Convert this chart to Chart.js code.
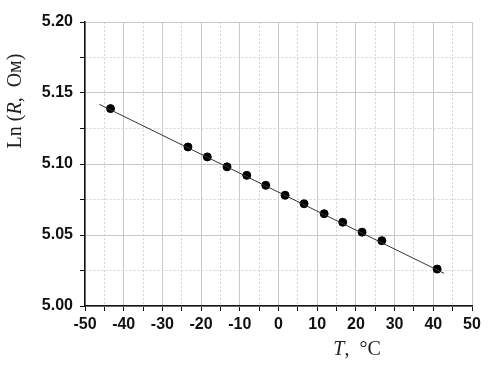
<!DOCTYPE html>
<html>
<head>
<meta charset="utf-8">
<script src="https://cdn.jsdelivr.net/npm/chart.js@4/dist/chart.umd.min.js"></script>
<style>
  body { margin: 0; background: #fff; }
  #wrap { width: 490px; height: 367px; }
</style>
</head>
<body>
<div id="wrap"><canvas id="ln_chart" width="490" height="367"></canvas></div>
<script>
const temps = [-43.4, -23.4, -18.4, -13.3, -8.2, -3.3, 1.7, 6.6, 11.8, 16.6, 21.6, 26.7, 41.0];
const lnR = [5.139, 5.112, 5.105, 5.098, 5.092, 5.085, 5.078, 5.072, 5.065, 5.059, 5.052, 5.046, 5.026];

// linear fit line ends
const fitT = [-46.3, 42.8];
const fitLn = [5.142, 5.023];

const xTicks = { min: -50, max: 50, major: 10, minor: 5 };
const yTicks = { min: 5.0, max: 5.2, major: 0.05, minor: 0.025 };

const isMajorX = (v) => Math.round(v) % xTicks.major === 0;
const isMajorY = (v) => Math.round(v * 1000) % Math.round(yTicks.major * 1000) === 0;

const tickFont = { family: '"Liberation Sans", Arial, sans-serif', size: 16, weight: 'bold' };

// axis titles have italic parts, so draw them by hand
const axisTitles = {
  id: 'axisTitles',
  afterDraw(chart) {
    const ctx = chart.ctx;
    const drawParts = (parts, cx, cy) => {
      let total = 0;
      for (const p of parts) {
        ctx.font = (p.italic ? 'italic ' : '') + '20px "Liberation Serif", "Times New Roman", serif';
        p.w = ctx.measureText(p.text).width;
        total += p.w;
      }
      let x = cx - total / 2;
      for (const p of parts) {
        ctx.font = (p.italic ? 'italic ' : '') + '20px "Liberation Serif", "Times New Roman", serif';
        ctx.fillText(p.text, x, cy);
        x += p.w;
      }
    };
    ctx.save();
    ctx.fillStyle = '#222';
    ctx.textBaseline = 'middle';
    ctx.textAlign = 'left';
    drawParts([{ text: 'T' , italic: true }, { text: ',  °C' }], 357, 350);
    ctx.translate(16, 101);
    ctx.rotate(-Math.PI / 2);
    drawParts([{ text: 'Ln (' }, { text: 'R', italic: true }, { text: ',  Ом)' }], 0, 0);
    ctx.restore();
  }
};

new Chart(document.getElementById('ln_chart'), {
  type: 'scatter',
  data: {
    datasets: [
      {
        label: 'fit',
        type: 'line',
        data: fitT.map((t, i) => ({ x: t, y: fitLn[i] })),
        borderColor: '#333',
        borderWidth: 1,
        pointRadius: 0,
        fill: false
      },
      {
        label: 'Ln R',
        data: temps.map((t, i) => ({ x: t, y: lnR[i] })),
        backgroundColor: '#000',
        borderColor: '#000',
        pointRadius: 4,
        pointHoverRadius: 4
      }
    ]
  },
  options: {
    responsive: false,
    animation: false,
    events: [],
    layout: { padding: { top: 22, right: 18, left: 0, bottom: 0 } },
    plugins: { legend: { display: false }, tooltip: { enabled: false } },
    scales: {
      x: {
        type: 'linear',
        min: xTicks.min,
        max: xTicks.max,
        afterFit: (scale) => { scale.height = 61; },
        ticks: {
          stepSize: xTicks.minor,
          autoSkip: false,
          maxRotation: 0,
          padding: 4,
          color: '#111',
          font: tickFont,
          callback: (v) => isMajorX(v) ? String(v) : ''
        },
        grid: {
          color: (c) => isMajorX(c.tick.value) ? '#c8c8c8' : '#d4d4d4',
          lineWidth: 1,
          tickLength: 5,
          tickColor: '#111'
        },
        border: {
          color: '#111',
          width: 1.5,
          dash: (c) => (c.tick && !isMajorX(c.tick.value)) ? [2, 2] : []
        }
      },
      y: {
        type: 'linear',
        min: yTicks.min,
        max: yTicks.max,
        afterFit: (scale) => { scale.width = 85; },
        ticks: {
          stepSize: yTicks.minor,
          autoSkip: false,
          padding: 7,
          color: '#111',
          font: tickFont,
          callback: (v) => isMajorY(v) ? v.toFixed(2) : ''
        },
        grid: {
          color: (c) => isMajorY(c.tick.value) ? '#c8c8c8' : '#d4d4d4',
          lineWidth: 1,
          tickLength: 5,
          tickColor: '#111'
        },
        border: {
          color: '#111',
          width: 1.5,
          dash: (c) => (c.tick && !isMajorY(c.tick.value)) ? [2, 2] : []
        }
      }
    }
  },
  plugins: [axisTitles]
});
</script>
</body>
</html>
